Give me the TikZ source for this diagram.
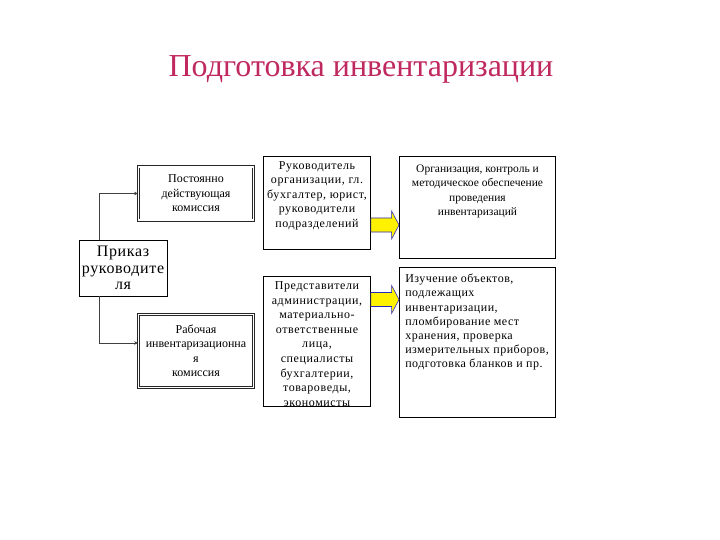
\documentclass[tikz,border=0pt]{standalone}
\usepackage{fontspec}
\setmainfont{Liberation Serif}
\usetikzlibrary{arrows.meta, positioning, calc}
\definecolor{titlered}{RGB}{192,40,96}
\definecolor{arrowblue}{RGB}{40,40,190}

\begin{document}
\begin{tikzpicture}[x=1pt, y=-1pt, every node/.style={inner sep=0pt},
		box/.style={draw, line width=0.8pt, align=center,
			font=\fontsize{12}{14.5}\selectfont},
		dbox/.style={box, draw=black!85, double, double distance=1.6pt},
		txt/.style={align=center, font=\fontsize{11.5}{14.5}\selectfont},
		conn/.style={draw=black!75, line width=0.8pt, -{Stealth[length=4pt, width=3.5pt]}},
		yarrow/.style={draw=arrowblue, line width=0.6pt, fill=yellow}]

			\useasboundingbox (0,0) rectangle (720,540);

			% Title
			\node (title) [anchor=base, text=titlered,
				font=\fontsize{32}{38}\selectfont] at (361,77) {Подготовка инвентаризации};

			% Order and commissions
			\node (prikaz) [box, minimum width=88pt, minimum height=56pt,
				font=\fontsize{16}{16.7}\selectfont\addfontfeatures{LetterSpace=4}]
				at (123,268) {Приказ\\руководите\\ля};
			\node (perm) [dbox, minimum width=115pt, minimum height=53.5pt] at (196,193.5)
				{Постоянно\\действующая\\комиссия};
			\node (work) [dbox, minimum width=115pt, minimum height=73pt] at (196,351)
				{Рабочая\\инвентаризационна\\я\\комиссия};

			% Members
			\node (head) [box, minimum width=107pt, minimum height=93pt] at (317,202.5) {};
			\node (headt) [txt, below=5.5pt of head.north,
				font=\fontsize{12}{14.5}\selectfont\addfontfeatures{LetterSpace=5}]
				{Руководитель\\организации, гл.\\бухгалтер, юрист,\\руководители\\подразделений};
			\node (rep) [box, minimum width=107pt, minimum height=130.5pt] at (317,341.5) {};
			\node (rept) [txt, below=5.5pt of rep.north,
				font=\fontsize{12}{14.6}\selectfont\addfontfeatures{LetterSpace=5}]
				{Представители\\администрации,\\материально-\\ответственные\\лица,\\специалисты\\бухгалтерии,\\товароведы,\\экономисты};

			% Tasks
			\node (org) [box, minimum width=156pt, minimum height=102pt] at (477.5,207) {};
			\node (orgt) [txt, below=9pt of org.north]
				{Организация, контроль и\\методическое обеспечение\\проведения\\инвентаризаций};
			\node (stud) [box, minimum width=156pt, minimum height=150pt] at (477.5,342.3) {};
			\node (studt) [txt, align=left, anchor=north west,
				font=\fontsize{12}{14.2}\selectfont\addfontfeatures{LetterSpace=4}]
				at ([xshift=6pt, yshift=-7pt]stud.north west)
				{Изучение объектов,\\подлежащих\\инвентаризации,\\пломбирование мест\\хранения, проверка\\измерительных приборов,\\подготовка бланков и пр.};

			% Connectors
			\draw[conn] (prikaz.north -| 99,0) |- (perm.west);
			\draw[conn] (prikaz.south -| 99,0) |- ([yshift=8pt]work.west);

			% Block arrows
			\coordinate (ya1) at (head.east |- 0,225);
			\coordinate (yb1) at (org.west |- 0,225);
			\draw[yarrow] ($(ya1)+(0,-7)$) -- ($(yb1)+(-7.5,-7)$) -- ($(yb1)+(-7.5,-14)$) -- (yb1)
				-- ($(yb1)+(-7.5,14)$) -- ($(yb1)+(-7.5,7)$) -- ($(ya1)+(0,7)$) -- cycle;
			\coordinate (ya2) at (rep.east |- 0,299.5);
			\coordinate (yb2) at (stud.west |- 0,299.5);
			\draw[yarrow] ($(ya2)+(0,-7)$) -- ($(yb2)+(-7.5,-7)$) -- ($(yb2)+(-7.5,-14)$) -- (yb2)
				-- ($(yb2)+(-7.5,14)$) -- ($(yb2)+(-7.5,7)$) -- ($(ya2)+(0,7)$) -- cycle;

		\end{tikzpicture}
\end{document}
